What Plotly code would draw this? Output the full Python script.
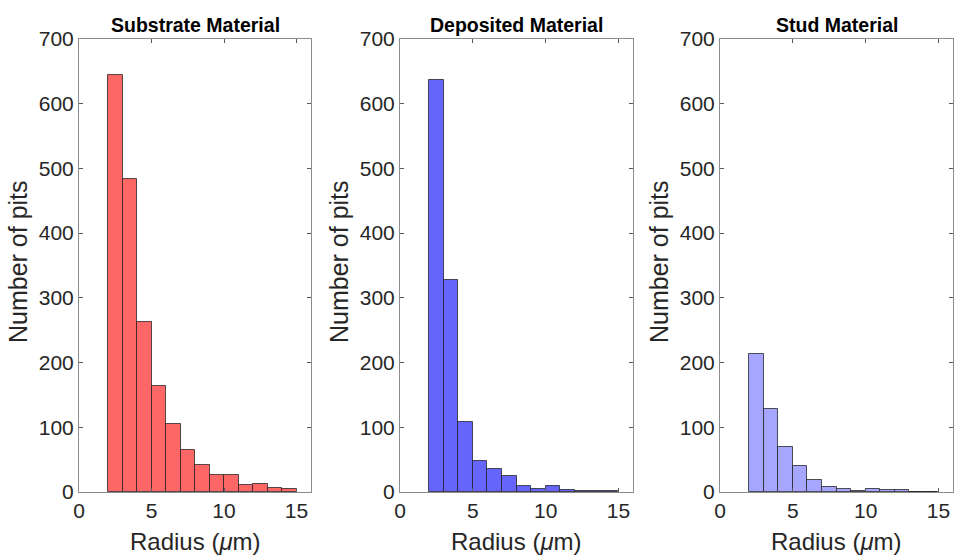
import plotly.graph_objects as go

bin_edges = [2, 3, 4, 5, 6, 7, 8, 9, 10, 11, 12, 13, 14, 15]
substrate_counts = [645, 483, 262, 164, 105, 65, 42, 27, 26, 11, 13, 6, 5]
deposited_counts = [637, 328, 108, 48, 35, 25, 9, 5, 10, 3, 2, 2, 1]
stud_counts = [213, 128, 70, 40, 18, 8, 4, 2, 5, 3, 3, 0, 0]

titles = ["Substrate Material", "Deposited Material", "Stud Material"]
colors = ["#FF6666", "#6666FF", "#A6A6FF"]
series = [substrate_counts, deposited_counts, stud_counts]
x_ticks = [0, 5, 10, 15]
y_ticks = [0, 100, 200, 300, 400, 500, 600, 700]
x_title = "Radius (<i>μ</i>m)"
y_title = "Number of pits"

centers = [(a + b) / 2 for a, b in zip(bin_edges[:-1], bin_edges[1:])]
widths = [b - a for a, b in zip(bin_edges[:-1], bin_edges[1:])]

W, H = 956, 555
px_domains = [(79, 311), (400, 633), (720, 953)]
domains = [[a / W, b / W] for a, b in px_domains]
ydom = [1 - 492 / H, 1 - 39 / H]

fig = go.Figure()
font = "Liberation Sans, Arial, sans-serif"
axis_color = "#262626"

for i, (vals, col) in enumerate(zip(series, colors)):
    xa = "x" if i == 0 else f"x{i+1}"
    ya = "y" if i == 0 else f"y{i+1}"
    fig.add_trace(go.Bar(
        x=centers, y=vals, width=widths,
        marker=dict(color=col, line=dict(color="rgba(30,30,30,0.75)", width=1)),
        xaxis=xa, yaxis=ya, showlegend=False,
    ))
    common = dict(showgrid=False, zeroline=False, showline=True, mirror="ticks",
                  linecolor="#8c8c8c", linewidth=1, ticks="inside", ticklen=4,
                  tickcolor="#5a5a5a", automargin=False,
                  tickfont=dict(family=font, size=21, color=axis_color))
    xkey = "xaxis" if i == 0 else f"xaxis{i+1}"
    ykey = "yaxis" if i == 0 else f"yaxis{i+1}"
    fig.update_layout({
        xkey: dict(common, domain=domains[i], range=[0, 16], tickvals=x_ticks,
                   anchor=ya),
        ykey: dict(common, domain=ydom, range=[0, 700], tickvals=y_ticks,
                   anchor=xa),
    })
    xc = (domains[i][0] + domains[i][1]) / 2
    fig.add_annotation(
        x=xc, y=1 - 25 / H, xref="paper", yref="paper",
        text=f"<b>{titles[i]}</b>", showarrow=False,
        font=dict(family=font, size=19.5, color="#000000"),
        xanchor="center", yanchor="middle",
    )
    fig.add_annotation(
        x=xc, y=1 - 541 / H, xref="paper", yref="paper",
        text=x_title, showarrow=False,
        font=dict(family=font, size=24, color=axis_color),
        xanchor="center", yanchor="middle",
    )
    fig.add_annotation(
        x=(px_domains[i][0] - 61) / W, y=1 - 262 / H,
        xref="paper", yref="paper",
        text=y_title, showarrow=False, textangle=-90,
        font=dict(family=font, size=25, color=axis_color),
        xanchor="center", yanchor="middle",
    )

fig.update_layout(
    width=W, height=H,
    margin=dict(l=0, r=0, t=0, b=0),
    paper_bgcolor="white", plot_bgcolor="white",
    bargap=0,
)

fig.write_html("out.html", config={"displayModeBar": False},
               post_script="document.body.style.margin='0';document.body.style.overflow='hidden';")
